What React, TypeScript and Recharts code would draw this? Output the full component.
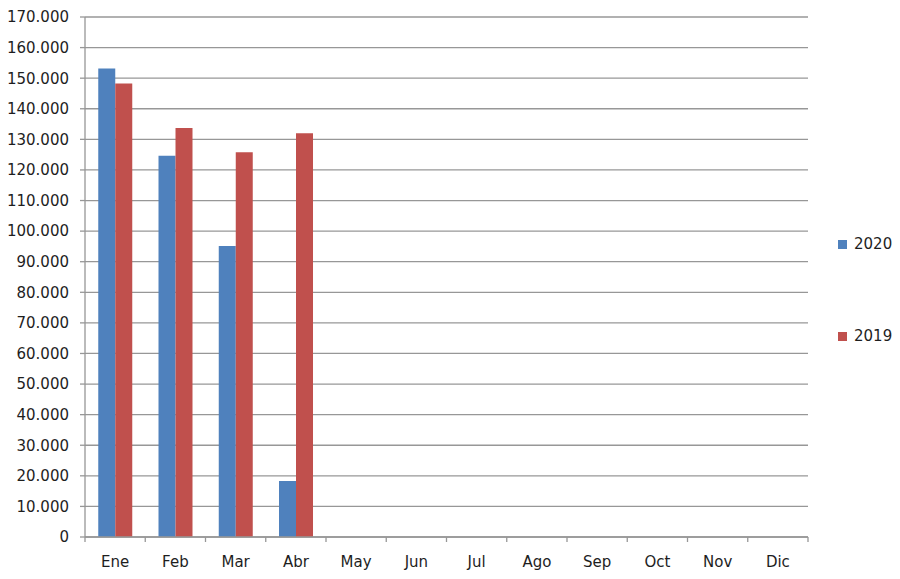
import React from "react";
import { BarChart, Bar, XAxis, YAxis, CartesianGrid, Legend } from "recharts";

const months = ["Ene", "Feb", "Mar", "Abr", "May", "Jun", "Jul", "Ago", "Sep", "Oct", "Nov", "Dic"];
const seriesNames = ["2020", "2019"];
const values2020: (number | null)[] = [153200, 124600, 95100, 18300, null, null, null, null, null, null, null, null];
const values2019: (number | null)[] = [148300, 133700, 125800, 132000, null, null, null, null, null, null, null, null];
const yTicks = [0, 10000, 20000, 30000, 40000, 50000, 60000, 70000, 80000, 90000, 100000, 110000, 120000, 130000, 140000, 150000, 160000, 170000];

const data = months.map((m, i) => ({ month: m, s2020: values2020[i], s2019: values2019[i] }));

const FONT = "DejaVu Sans";
const GRID = "#979797";
const TEXT = "#1e1e1e";

const fmt = (v: number) => (v === 0 ? "0" : `${Math.round(v / 1000)}.000`);

const XTick = (props: any) => {
  const { x, y, payload, index } = props;
  const off = payload && payload.offset != null ? payload.offset : 30;
  return (
    <g>
      <line x1={x - off} y1={y} x2={x - off} y2={y + 5} stroke={GRID} strokeWidth={1.3} />
      {index === months.length - 1 && (
        <line x1={x + off} y1={y} x2={x + off} y2={y + 5} stroke={GRID} strokeWidth={1.3} />
      )}
      <text x={x} y={y + 30} textAnchor="middle" fontFamily={FONT} fontSize={15} fill={TEXT}>
        {payload.value}
      </text>
    </g>
  );
};

const LegendContent = (props: any) => {
  const items = [...(props.payload || [])].sort(
    (a: any, b: any) => seriesNames.indexOf(String(a.value)) - seriesNames.indexOf(String(b.value))
  );
  return (
    <div style={{ position: "absolute", left: 838, top: 234, fontFamily: FONT, fontSize: 15, color: TEXT }}>
      {items.map((p: any, i: number) => (
        <div key={i} style={{ display: "flex", alignItems: "center", height: 20, marginBottom: 72 }}>
          <span style={{ display: "inline-block", width: 9, height: 9, background: p.color, marginRight: 7 }} />
          <span>{p.value}</span>
        </div>
      ))}
    </div>
  );
};

export default function App() {
  return (
    <div style={{ position: "absolute", left: 0, top: 0, width: 900, height: 579, background: "#fff" }}>
      <BarChart
        width={900}
        height={579}
        data={data}
        margin={{ top: 17, right: 92, left: 0, bottom: 0 }}
        barCategoryGap="22%"
        barGap={0}
      >
        <CartesianGrid vertical={false} stroke={GRID} strokeWidth={1.3} />
        <XAxis
          dataKey="month"
          height={42}
          tickSize={0}
          tickMargin={0}
          tickLine={false}
          axisLine={{ stroke: GRID, strokeWidth: 1.3 }}
          tick={<XTick />}
          interval={0}
        />
        <YAxis
          width={85}
          domain={[0, 170000]}
          ticks={yTicks}
          interval={0}
          tickFormatter={fmt}
          tickSize={5}
          tickMargin={11}
          tickLine={{ stroke: GRID, strokeWidth: 1.3 }}
          axisLine={{ stroke: GRID, strokeWidth: 1.3 }}
          tick={{ fontFamily: FONT, fontSize: 15, fill: TEXT }}
        />
        <Legend content={<LegendContent />} wrapperStyle={{ position: "absolute", left: 0, top: 0, width: 0, height: 0 }} />
        <Bar dataKey="s2020" name={seriesNames[0]} fill="#4F81BD" isAnimationActive={false} />
        <Bar dataKey="s2019" name={seriesNames[1]} fill="#C0504D" isAnimationActive={false} />
      </BarChart>
    </div>
  );
}
